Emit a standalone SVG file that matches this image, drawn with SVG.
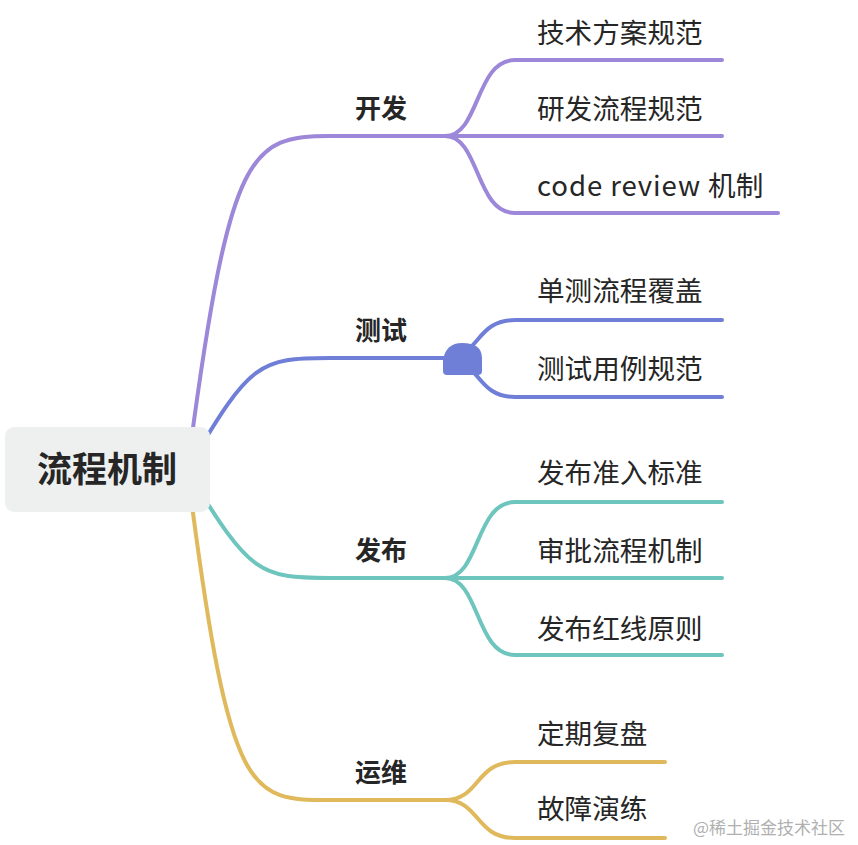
<svg xmlns="http://www.w3.org/2000/svg" width="858" height="845" viewBox="0 0 858 845">
<style>
.c{fill:none;stroke-width:4;stroke-linecap:round}
.p{stroke:#9c87d9}.b{stroke:#6f7fd8}.t{stroke:#6ec5be}.y{stroke:#dfb95c}
.lbl{font-family:"Noto Sans CJK SC","Noto Sans",sans-serif;fill:#262626}
.br{font-size:26px;font-weight:bold}
.ch{font-size:27.6px}
</style>
<rect width="858" height="845" fill="#ffffff"/>
<g id="connectors">
<path class="c p" d="M190 450 C230 150 250 136 330 136 L445 136"/>
<path class="c p" d="M445 136 C480 136 475 60 515 60 L722 60"/>
<path class="c p" d="M445 136 L722 136"/>
<path class="c p" d="M445 136 C480 136 475 213 515 213 L778 213"/>
<path class="c b" d="M190 465 C250 362 260 358 330 358 L445 358"/>
<path class="c b" d="M445 358 C480 358 475 320 515 320 L722 320"/>
<path class="c b" d="M445 358 C480 358 475 397 515 397 L722 397"/>
<path class="c t" d="M190 475 C250 574 260 578 330 578 L445 578"/>
<path class="c t" d="M445 578 C480 578 475 502 515 502 L722 502"/>
<path class="c t" d="M445 578 L722 578"/>
<path class="c t" d="M445 578 C480 578 475 655 515 655 L722 655"/>
<path class="c y" d="M190 490 C230 800 250 800 330 800 L445 800"/>
<path class="c y" d="M445 800 C480 800 475 762 515 762 L665 762"/>
<path class="c y" d="M445 800 C480 800 475 838 515 838 L665 838"/>
<path d="M443 371 L443 360 Q446 343 462 343 Q482 343 482 358 L482 371 Q482 375 478 375 L447 375 Q443 375 443 371 Z" fill="#6f7fd8"/>
</g>
<g id="root">
<rect x="5" y="427" width="205" height="85" rx="9" fill="#eef0f0"/>
<text class="lbl" x="107" y="482" font-size="35" font-weight="bold" text-anchor="middle">流程机制</text>
</g>
<g id="n-dev"><text class="lbl br" x="355" y="118">开发</text></g>
<g id="n-test"><text class="lbl br" x="355" y="340">测试</text></g>
<g id="n-release"><text class="lbl br" x="355" y="560">发布</text></g>
<g id="n-ops"><text class="lbl br" x="355" y="782">运维</text></g>
<g id="c1"><text class="lbl ch" x="537" y="43">技术方案规范</text></g>
<g id="c2"><text class="lbl ch" x="537" y="119">研发流程规范</text></g>
<g id="c3"><text class="lbl ch" x="537" y="196"><tspan letter-spacing="0.9">code review </tspan>机制</text></g>
<g id="c4"><text class="lbl ch" x="537" y="301">单测流程覆盖</text></g>
<g id="c5"><text class="lbl ch" x="537" y="379">测试用例规范</text></g>
<g id="c6"><text class="lbl ch" x="537" y="483">发布准入标准</text></g>
<g id="c7"><text class="lbl ch" x="537" y="561">审批流程机制</text></g>
<g id="c8"><text class="lbl ch" x="537" y="639">发布红线原则</text></g>
<g id="c9"><text class="lbl ch" x="537" y="744">定期复盘</text></g>
<g id="c10"><text class="lbl ch" x="537" y="819">故障演练</text></g>
<text x="693" y="834" font-family="Noto Sans CJK SC,sans-serif" font-size="17" fill="#b0b0b0">@稀土掘金技术社区</text>
</svg>
